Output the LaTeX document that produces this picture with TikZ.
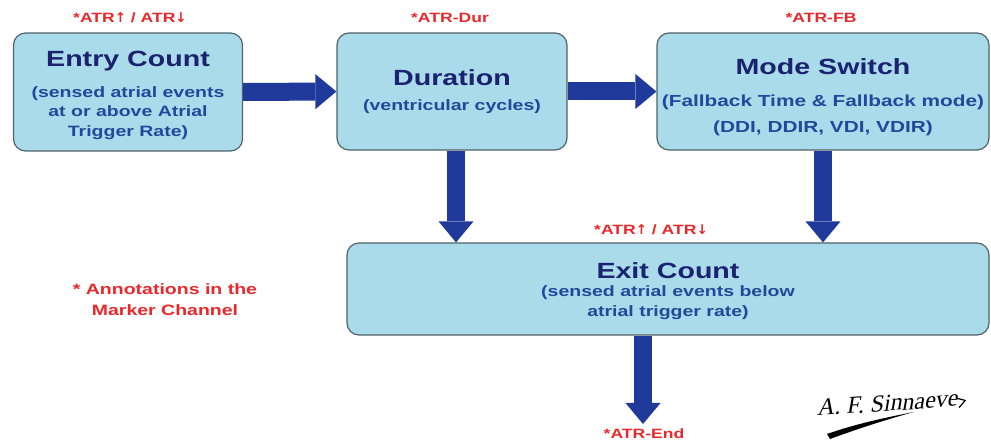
\documentclass[tikz,border=0pt]{standalone}
\usepackage{fontspec}
\setmainfont{Liberation Sans}[FakeStretch=1.3]
\newfontfamily\sigfont{Liberation Serif}[FakeSlant=0.25]
\newfontfamily\symfont{DejaVu Sans}
\usetikzlibrary{arrows.meta}
\definecolor{boxfill}{HTML}{A9DBEA}
\definecolor{boxline}{HTML}{50626A}
\definecolor{headblue}{HTML}{1B2270}
\definecolor{subblue}{HTML}{22489B}
\definecolor{arrowblue}{HTML}{1F3A9A}
\definecolor{markred}{HTML}{E8282B}
% title line of a stage; the optional argument adds head room above it
\newcommand{\stagetitle}[2][0pt]{{\fontsize{22}{24}\selectfont\color{headblue}\rule{0pt}{\dimexpr16pt+#1\relax}#2}}
\newcommand{\up}{{\symfont\bfseries ↑}}
\newcommand{\down}{{\symfont\bfseries ↓}}
\tikzset{
  stage/.style={draw=boxline, line width=1.2pt, fill=boxfill, rounded corners=12pt,
    inner sep=0pt, align=center, text=subblue,
    font=\bfseries\fontsize{15}{19.5}\selectfont},
  marker/.style={text=markred, font=\bfseries\fontsize{13.5}{16}\selectfont, inner sep=0pt},
  flow/.style={draw=arrowblue, line width=18pt,
    -{Triangle[width=35pt 0 0, length=21pt 0 0, line width=0pt 0 0]}},
}
\begin{document}
\begin{tikzpicture}[x=1pt, y=-1pt]
\useasboundingbox (0,0) rectangle (991,443);
\fill[white] (0,0) rectangle (991,443);

% process stages
\node[stage, minimum width=229pt, minimum height=118pt] (entry) at (128,92)
  {\stagetitle[6pt]{Entry Count}\\[11pt](sensed atrial events\\at or above Atrial\\Trigger Rate)};
\node[stage, minimum width=230pt, minimum height=117pt] (dur) at (452,91.5)
  {\stagetitle{Duration}\\[5pt](ventricular cycles)};
\node[stage, minimum width=332pt, minimum height=117pt, font=\bfseries\fontsize{16}{26}\selectfont] (mode) at (823,91.5)
  {\stagetitle[12pt]{Mode Switch}\\[6pt](Fallback Time \& Fallback mode)\\(DDI, DDIR, VDI, VDIR)};
\node[stage, minimum width=642pt, minimum height=92pt, font=\bfseries\fontsize{15}{20}\selectfont] (exit) at (668,289)
  {\stagetitle[5pt]{Exit Count}\\[-2pt](sensed atrial events below\\atrial trigger rate)};

% marker channel annotations
\node[marker] (entrymk) at (130,18) {*ATR\up{} / ATR\down};
\node[marker] (durmk) at (450,18) {*ATR-Dur};
\node[marker] (modemk) at (821,18) {*ATR-FB};
\node[marker] (exitmk) at (651,230) {*ATR\up{} / ATR\down};
\node[marker] (endmk) at (644,434) {*ATR-End};
\node[marker, align=center, font=\bfseries\fontsize{15}{21}\selectfont] (note) at (165,300)
  {* Annotations in the\\Marker Channel};

% flow between stages
\coordinate (atrend) at (643,424);
\draw[flow] (entry.east) -- (dur.west);
\draw[flow] (dur.east) -- (mode.west);
\draw[flow] ([xshift=4pt]dur.south) -- ([xshift=4pt]dur.south |- exit.north);
\draw[flow] (mode.south) -- (mode.south |- exit.north);
\draw[flow] (exit.south -| atrend) -- (atrend);

% signature
\node[font=\sigfont\fontsize{24}{24}\selectfont, rotate=4, inner sep=0pt, anchor=base west] (sig) at (817,416) {A. F. Sinnaeve};
\fill[black] (827,434) .. controls (855,424) and (888,417) .. (914,412)
  .. controls (888,419) and (857,429) .. (830,439) -- cycle;
\draw[black, line width=1.2pt, line cap=round, line join=round] (sig.east) -- ++(8,2) -- ++(-6,7);
\end{tikzpicture}
\end{document}
